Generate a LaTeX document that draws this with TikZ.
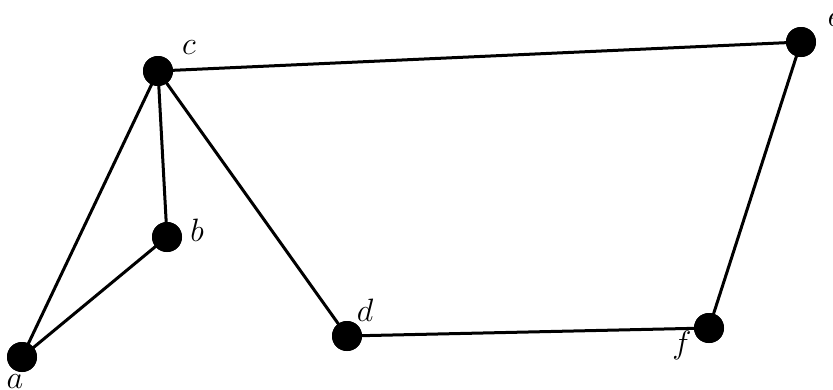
\documentclass[tikz,border=0pt]{standalone}
\newcommand{\biglbl}[1]{\scalebox{1.3}{\Huge$#1$}}
\begin{document}
\begin{tikzpicture}[x=1pt,y=-1pt,
  vtx/.style={circle,fill=black,inner sep=0pt,minimum size=30pt},
  lbl/.style={inner sep=0pt},
  edge/.style={line width=3pt}]
\useasboundingbox (0,0) rectangle (833,389);
\node[vtx] (a) at (22,357) {};
\node[vtx] (b) at (167,237) {};
\node[vtx] (c) at (158,71) {};
\node[vtx] (d) at (347,336) {};
\node[vtx] (e) at (801,42) {};
\node[vtx] (f) at (709,328) {};
\node[lbl] (la) at (15,382) {\biglbl{a}};
\node[lbl] (lb) at (197,230) {\biglbl{b}};
\node[lbl] (lc) at (189,48) {\biglbl{c}};
\node[lbl] (ld) at (365,310) {\biglbl{d}};
\node[lbl] (le) at (835,20) {\biglbl{e}};
\node[lbl] (lf) at (682,345) {\biglbl{f}};
\draw[edge] (a.center) -- (c.center);
\draw[edge] (a.center) -- (b.center);
\draw[edge] (b.center) -- (c.center);
\draw[edge] (c.center) -- (d.center);
\draw[edge] (c.center) -- (e.center);
\draw[edge] (d.center) -- (f.center);
\draw[edge] (e.center) -- (f.center);
\foreach \v in {a,b,c,d,e,f} \node[vtx] at (\v) {};
\end{tikzpicture}
\end{document}
